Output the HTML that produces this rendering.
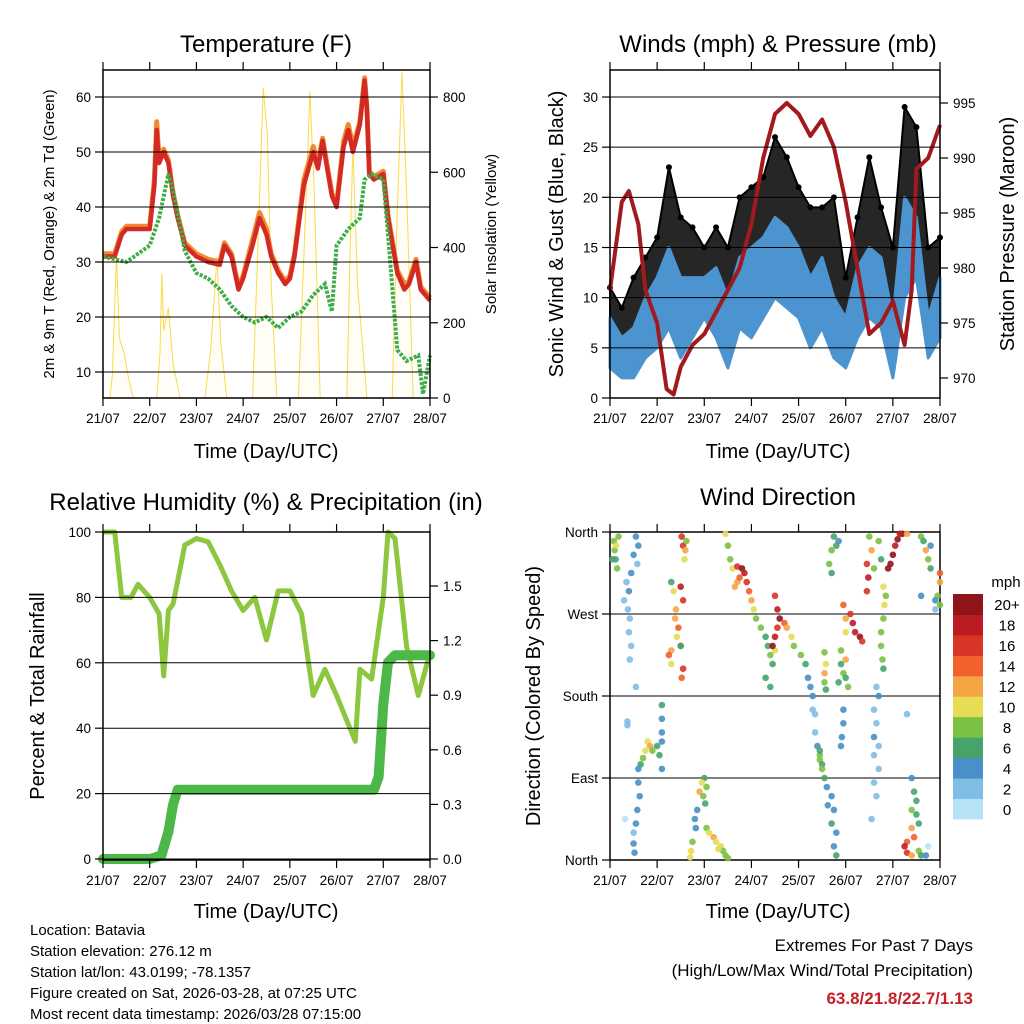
<!DOCTYPE html>
<html><head><meta charset="utf-8">
<style>
html,body{margin:0;padding:0;background:#fff;}
svg{display:block;font-family:"Liberation Sans",Arial,sans-serif;}
</style></head>
<body>
<svg id="chart" width="1024" height="1024" viewBox="0 0 1024 1024" xmlns="http://www.w3.org/2000/svg">
<rect width="1024" height="1024" fill="#fff"/>
<g id="layer"></g>
<text x="266" y="52" font-size="24" text-anchor="middle">Temperature (F)</text>
<text x="778" y="52" font-size="24" text-anchor="middle">Winds (mph) &amp; Pressure (mb)</text>
<text x="266" y="510" font-size="24" text-anchor="middle">Relative Humidity (%) &amp; Precipitation (in)</text>
<text x="778" y="505" font-size="24" text-anchor="middle">Wind Direction</text>
<text x="266" y="458" font-size="20" text-anchor="middle">Time (Day/UTC)</text>
<text x="778" y="458" font-size="20" text-anchor="middle">Time (Day/UTC)</text>
<text x="266" y="918" font-size="20" text-anchor="middle">Time (Day/UTC)</text>
<text x="778" y="918" font-size="20" text-anchor="middle">Time (Day/UTC)</text>
<text transform="translate(54,234) rotate(-90)" font-size="15" text-anchor="middle">2m &amp; 9m T (Red, Orange) &amp; 2m Td (Green)</text>
<text transform="translate(496,234) rotate(-90)" font-size="15" text-anchor="middle">Solar Insolation (Yellow)</text>
<text transform="translate(563,234) rotate(-90)" font-size="20" text-anchor="middle">Sonic Wind &amp; Gust (Blue, Black)</text>
<text transform="translate(1014,234) rotate(-90)" font-size="20" text-anchor="middle">Station Pressure (Maroon)</text>
<text transform="translate(44,696) rotate(-90)" font-size="20" text-anchor="middle">Percent &amp; Total Rainfall</text>
<text transform="translate(540,696) rotate(-90)" font-size="20" text-anchor="middle">Direction (Colored By Speed)</text>
<g font-size="15">
<text x="30" y="935">Location: Batavia</text>
<text x="30" y="956">Station elevation: 276.12 m</text>
<text x="30" y="977">Station lat/lon: 43.0199; -78.1357</text>
<text x="30" y="998">Figure created on Sat, 2026-03-28, at 07:25 UTC</text>
<text x="30" y="1019">Most recent data timestamp: 2026/03/28 07:15:00</text>
</g>
<g text-anchor="end">
<text x="973" y="951" font-size="17">Extremes For Past 7 Days</text>
<text x="973" y="976" font-size="17">(High/Low/Max Wind/Total Precipitation)</text>
<text x="973" y="1004" font-size="17" font-weight="bold" fill="#c8202a">63.8/21.8/22.7/1.13</text>
</g>
</svg>
<script>
const dayLabels=["21/07","22/07","23/07","24/07","25/07","26/07","27/07","28/07"];
// Temperature panel
const tempT=[0,0.25,0.4,0.5,0.75,1.0,1.1,1.15,1.2,1.3,1.4,1.5,1.6,1.75,2.0,2.25,2.5,2.6,2.75,2.9,3.0,3.2,3.35,3.5,3.6,3.75,3.9,4.0,4.1,4.3,4.5,4.6,4.7,4.8,4.9,5.0,5.15,5.25,5.35,5.5,5.6,5.65,5.7,5.8,6.0,6.1,6.3,6.45,6.55,6.7,6.8,7.0];
const tempRed=[31,31,35,36,36,36,44,54,48,50,48,42,38,33,31,30,29.5,33,31,25,27,33,38,35,31,28,26,27,31,44,50,47,52,47,42,40,51,54,50,55,63,58,46,45,46,38,28,25,26,30,25,23];
const tempOrange=[31.5,31.5,35.5,36.5,36.5,36.5,45,55.5,48.5,50.5,48.5,42.5,38.5,33.5,31.5,30.5,30,33.5,31.5,25.5,27.5,34,39,36,31.5,28.5,26.5,27.5,31.5,45,51,48,52.5,47.5,42.5,40.5,52,55,51,55.5,63.5,58,46.5,45.5,46.5,38.5,28.5,26,26.5,30.5,25.5,23.5];
const dewT=[0,0.5,1.0,1.2,1.4,1.5,1.75,2.0,2.25,2.5,2.75,3.0,3.25,3.5,3.75,4.0,4.25,4.5,4.75,4.9,5.0,5.25,5.5,5.6,5.75,6.0,6.1,6.3,6.5,6.75,6.85,7.0];
const dewVal=[31,30,33,38,46,43,32,28,27,25,22,20,19,20,18,20,21,24,26,21,33,36,38,45,46,45,35,14,12,13,6,13];
const solarT=[0,0.15,0.2,0.29,0.35,0.45,0.55,0.65,1.15,1.22,1.26,1.3,1.4,1.5,1.65,2.18,2.3,2.44,2.52,2.65,3.2,3.3,3.43,3.52,3.6,3.72,4.18,4.3,4.43,4.52,4.65,5.22,5.3,5.35,5.45,5.65,6.19,6.3,6.4,6.5,6.64,7.0];
const solarV=[0,0,60,385,160,120,50,0,0,120,332,180,240,90,0,0,120,375,150,0,0,350,825,700,300,0,0,380,815,560,0,0,450,670,300,0,0,500,867,550,0,0];
const tempTicks=[10,20,30,40,50,60];
const solarTicks=[0,200,400,600,800];
// Winds panel
const windT=[0,0.25,0.5,0.75,1.0,1.25,1.5,1.75,2.0,2.25,2.5,2.75,3.0,3.25,3.5,3.75,4.0,4.25,4.5,4.75,5.0,5.25,5.5,5.75,6.0,6.25,6.5,6.75,7.0];
const windLo=[3,2,2,4,5,7,4,6,8,6,3,7,6,8,10,9,8,5,7,4,3,6,8,7,2,10,12,4,6];
const windHi=[8,6,7,10,12,15,12,12,12,13,10,14,15,16,18,17,15,12,14,10,8,13,15,14,8,20,18,8,12];
const gust=[11,9,12,14,16,23,18,17,15,17,15,20,21,22,26,24,21,19,19,20,12,18,24,19,15,29,27,15,16];
const presT=[0,0.25,0.4,0.6,0.75,1.0,1.2,1.35,1.5,1.75,2.0,2.25,2.5,2.75,3.0,3.25,3.5,3.75,4.0,4.25,4.5,4.75,5.0,5.25,5.5,5.75,6.0,6.25,6.4,6.5,6.75,7.0];
const presVal=[978,986,987,984,978,975,969,968.5,971,973,974,976,978,980,984,990,994,995,994,992,993.5,991,986,980,974,975,977,973,978,989,990,993];
const windTicks=[0,5,10,15,20,25,30];
const presTicks=[970,975,980,985,990,995];
// RH panel
const rhT=[0,0.25,0.4,0.6,0.75,1.0,1.2,1.3,1.4,1.5,1.75,2.0,2.25,2.5,2.75,3.0,3.25,3.5,3.75,4.0,4.25,4.5,4.75,5.0,5.2,5.4,5.5,5.75,6.0,6.1,6.25,6.5,6.75,7.0];
const rhVal=[100,100,80,80,84,80,75,56,76,78,96,98,97,90,82,76,80,67,82,82,75,50,58,50,43,36,58,55,80,100,98,65,50,63];
const precT=[0,1.0,1.25,1.4,1.5,1.6,1.75,5.8,5.9,6.0,6.1,6.25,7.0];
const precVal=[0,0,0.02,0.15,0.30,0.38,0.38,0.38,0.45,0.85,1.08,1.12,1.12];
const rhTicks=[0,20,40,60,80,100];
const precTicks=[0.0,0.3,0.6,0.9,1.2,1.5];
// Wind direction panel
const dirLabels=["North","East","South","West","North"];
const speedLabels=["0","2","4","6","8","10","12","14","16","18","20+"];
const dirT=[0.08,0.1,0.12,0.15,0.05,0.18,0.13,0.55,0.6,0.5,0.58,0.45,0.35,0.4,0.3,0.38,0.42,0.4,0.45,0.42,0.55,1.52,1.55,1.6,1.62,1.58,1.3,1.35,1.5,1.55,1.4,1.38,1.45,1.42,1.5,1.3,1.25,1.3,1.55,1.52,1.5,0.37,0.37,1.1,1.1,1.1,0.8,0.85,0.75,0.7,0.65,0.6,1.0,1.05,1.1,1.1,0.9,0.6,0.63,0.58,0.55,0.5,0.5,0.52,0.32,2.0,1.95,2.05,1.9,1.98,2.02,1.85,1.8,1.82,1.75,1.72,1.7,2.05,2.1,2.2,2.25,2.35,2.4,2.45,2.5,2.3,2.45,2.5,2.55,2.6,2.7,2.7,2.8,2.85,2.75,2.9,2.65,2.95,3.0,3.05,3.1,3.2,3.3,3.35,3.4,3.45,3.3,3.4,3.5,3.5,3.55,3.6,3.55,3.5,3.45,3.7,3.75,3.85,3.9,4.05,4.15,4.2,4.25,4.3,4.3,4.35,4.35,4.4,4.45,4.45,4.5,4.5,4.45,4.55,4.6,4.7,4.75,4.7,4.8,4.75,4.8,4.62,4.75,4.85,4.7,4.65,4.7,4.8,4.55,4.58,4.55,4.55,4.58,4.95,5.0,5.0,5.1,5.15,5.2,5.3,5.35,4.9,4.9,4.95,5.0,5.05,4.85,5.0,4.95,4.95,4.92,4.9,5.5,5.55,5.45,5.48,5.45,5.6,5.7,5.75,5.8,5.85,5.82,5.8,5.75,5.75,5.78,5.8,5.65,5.7,5.6,5.65,5.6,5.7,5.6,5.7,5.6,5.65,5.55,5.9,5.95,6.0,6.05,6.1,6.2,6.15,6.3,6.6,6.65,6.7,6.75,6.8,6.8,6.6,7.0,7.0,6.95,6.9,6.9,7.0,6.4,6.45,6.5,6.4,6.5,6.55,6.4,6.45,6.3,6.25,6.3,6.4,6.55,6.6,6.7,6.75,6.3];
const dirDeg=[350,340,330,320,330,355,345,355,345,335,325,315,305,295,285,275,265,250,235,220,190,355,345,340,350,330,305,295,300,285,275,265,255,245,235,230,225,215,210,200,235,152,148,170,155,140,130,125,120,112,105,100,125,115,130,100,120,85,70,55,40,30,18,8,45,90,85,80,75,70,62,55,45,35,20,10,3,35,30,25,20,15,10,5,2,12,358,345,330,320,305,322,320,315,310,305,300,295,285,275,265,255,245,235,225,215,200,190,230,290,275,265,255,245,235,260,255,245,235,225,215,200,190,180,165,160,140,125,115,110,105,100,120,90,80,70,55,40,30,15,5,60,355,350,340,325,315,345,228,215,205,195,187,280,265,250,270,260,250,245,240,230,215,205,200,190,195,220,165,150,135,125,355,340,325,310,295,320,350,330,300,290,280,265,250,235,220,210,190,180,165,150,135,125,115,100,85,70,45,320,325,335,345,352,358,358,358,355,350,340,330,320,345,290,315,305,290,285,275,280,90,75,65,55,50,40,35,25,20,15,8,5,10,5,5,15,160];
const dirSpd=[8,9,7,8,6,8,10,4,4,4,3,4,3,4,3,2,2,2,2,2,2,17,16,12,8,10,7,10,18,16,12,12,14,10,14,12,15,10,16,15,6,2,2,6,4,4,10,12,10,8,6,4,6,6,4,4,8,4,4,4,4,3,4,4,0,7,10,8,12,8,7,4,4,4,8,10,10,8,10,12,10,11,8,9,8,11,10,8,9,10,12,16,20,18,14,16,12,14,12,10,8,8,7,6,8,6,6,7,10,16,18,20,16,18,20,14,12,10,8,8,6,4,4,4,2,2,2,4,8,8,7,8,6,6,4,4,4,6,4,4,6,4,6,4,8,8,7,6,8,10,12,8,6,14,12,10,16,18,18,20,16,8,6,8,6,8,6,12,4,4,4,4,8,12,16,18,16,8,8,6,10,8,10,8,8,8,8,7,2,4,2,2,4,2,2,2,2,2,2,20,20,20,18,20,20,18,12,8,6,12,8,6,4,4,14,12,8,4,2,8,4,6,6,8,6,6,12,14,14,18,16,12,8,6,4,0,2];

const NS="http://www.w3.org/2000/svg";
const layer=document.getElementById('layer');
function mk(tag,attrs,parent){const e=document.createElementNS(NS,tag);for(const k in attrs)e.setAttribute(k,attrs[k]);(parent||layer).appendChild(e);return e;}
function scale(d0,d1,r0,r1){return v=>r0+(v-d0)/(d1-d0)*(r1-r0);}
function pathD(xs,ys,fx,fy){return xs.map((t,i)=>(i?'L':'M')+fx(t).toFixed(1)+','+fy(ys[i]).toFixed(1)).join('');}

function frame(name,x0,x1,y0,y1,xs,leftTicks,fyL,leftFmt,rightTicks,fyR,rightFmt,gridTicks){
  const g=mk('g',{});
  
  
  gridTicks.forEach(v=>{const gl=mk('line',{x1:x0,x2:x1,y1:fyL(v),y2:fyL(v),stroke:'#000','stroke-width':1},g);
    
    });
  mk('rect',{x:x0,y:y0,width:x1-x0,height:y1-y0,fill:'none',stroke:'#000','stroke-width':1.5},g);
  for(let d=0;d<=7;d++){
    const x=xs(d);
    mk('line',{x1:x,x2:x,y1:y1,y2:y1+8,stroke:'#000','stroke-width':1.2},g);
    mk('line',{x1:x,x2:x,y1:y0,y2:y0-8,stroke:'#000','stroke-width':1.2},g);
    const t=mk('text',{x:x,y:y1+25,'font-size':13.5,'text-anchor':'middle'},g);t.textContent=dayLabels[d];
    
    
  }
  leftTicks.forEach(v=>{const y=fyL(v);
    mk('line',{x1:x0-8,x2:x0,y1:y,y2:y,stroke:'#000','stroke-width':1.2},g);
    if(leftFmt){const t=mk('text',{x:x0-12,y:y+5,'font-size':13.5,'text-anchor':'end'},g);t.textContent=leftFmt(v);
    
    }});
  rightTicks.forEach(v=>{const y=fyR(v);
    mk('line',{x1:x1,x2:x1+8,y1:y,y2:y,stroke:'#000','stroke-width':1.2},g);
    const t=mk('text',{x:x1+13,y:y+5,'font-size':13.5,'text-anchor':'start'},g);t.textContent=rightFmt(v);
    
    });
}

// ---- Temperature panel
{const x0=103,x1=430,y0=70,y1=398;
 const fx=scale(0,7,x0,x1), fy=scale(10,60,372,97), fs=scale(0,800,398,97);
 const s=mk('path',{d:pathD(solarT,solarV,fx,fs),fill:'#fbe97a','fill-opacity':0.08,stroke:'#f8dc4a','stroke-width':1});
 
 
 const o=mk('path',{d:pathD(tempT,tempOrange,fx,fy),fill:'none',stroke:'#f28a2e','stroke-width':5,'stroke-linejoin':'round'});
 
 
 const r=mk('path',{d:pathD(tempT,tempRed,fx,fy),fill:'none',stroke:'#d42a26','stroke-width':4.5,'stroke-linejoin':'round'});
 
 
 const gr=mk('path',{d:pathD(dewT,dewVal,fx,fy),fill:'none',stroke:'#3fae46','stroke-width':4,'stroke-dasharray':'3,1.5'});
 
 
 frame('temperature',x0,x1,y0,y1,fx,tempTicks,fy,v=>String(v),solarTicks,fs,v=>String(v),tempTicks);
}
// ---- Winds panel
{const x0=610,x1=940,y0=70,y1=398;
 const fx=scale(0,7,x0,x1), fy=scale(0,30,398,97), fp=scale(970,995,378,103);
 const gd=pathD(windT,gust,fx,fy)+windT.slice().reverse().map((t,i)=>'L'+fx(t).toFixed(1)+','+fy(windHi[windT.length-1-i]).toFixed(1)).join('')+'Z';
 const gb=mk('path',{d:gd,fill:'#000','fill-opacity':0.85,stroke:'#000','stroke-width':2,'stroke-linejoin':'round'});
 
 
 const bd=pathD(windT,windHi,fx,fy)+windT.slice().reverse().map((t,i)=>'L'+fx(t).toFixed(1)+','+fy(windLo[windT.length-1-i]).toFixed(1)).join('')+'Z';
 const bb=mk('path',{d:bd,fill:'#4b94d0',stroke:'#4b94d0','stroke-width':3,'stroke-linejoin':'round'});
 
 
 gust.forEach((v,i)=>{const c=mk('circle',{cx:fx(windT[i]),cy:fy(v),r:3,fill:'#000'});
   
   });
 const p=mk('path',{d:pathD(presT,presVal,fx,fp),fill:'none',stroke:'#a31a1e','stroke-width':4,'stroke-linejoin':'round'});
 
 
 frame('winds',x0,x1,y0,y1,fx,windTicks,fy,v=>String(v),presTicks,fp,v=>String(v),windTicks);
}
// ---- RH panel
{const x0=103,x1=430,y0=532,y1=860;
 const fx=scale(0,7,x0,x1), fy=scale(0,100,859,532), fr=scale(0,1.5,859,586);
 const rh=mk('path',{d:pathD(rhT,rhVal,fx,fy),fill:'none',stroke:'#8dc63f','stroke-width':5,'stroke-linejoin':'round'});
 
 
 const pr=mk('path',{d:pathD(precT,precVal,fx,fr),fill:'none',stroke:'#4cb848','stroke-width':10,'stroke-linejoin':'round','stroke-linecap':'round'});
 
 
 frame('humidity',x0,x1,y0,y1,fx,rhTicks,fy,v=>String(v),precTicks,fr,v=>v.toFixed(1),rhTicks);
}
// ---- Wind direction panel
{const x0=610,x1=940,y0=532,y1=860;
 const fx=scale(0,7,x0,x1), fy=scale(0,360,860,532);
 const colors=['#b7e3f8','#7fbce6','#4890c7','#46a46b','#7bc143','#e5dd55','#f6a545','#f0612b','#d83427','#bb1c22','#8f1518'];
 frame('direction',x0,x1,y0,y1,fx,[],fy,null,[],fy,v=>'',[90,180,270]);
 dirT.forEach((t,i)=>{const b=Math.min(10,Math.floor(dirSpd[i]/2));
   const c=mk('circle',{cx:fx(t).toFixed(1),cy:fy(dirDeg[i]).toFixed(1),r:3.3,fill:colors[b],'fill-opacity':0.9});
   
   });
 [0,90,180,270,360].forEach((v,i)=>{const y=fy(v);
   mk('line',{x1:x0-8,x2:x0,y1:y,y2:y,stroke:'#000','stroke-width':1.2});
   const tx=mk('text',{x:x0-12,y:y+5,'font-size':13.5,'text-anchor':'end'});tx.textContent=dirLabels[i];
   
   });
 const cb=mk('g',{});
 
 
 const h=(819-594)/11;
 speedLabels.forEach((l,i)=>{const y=819-(i+1)*h;
   mk('rect',{x:953,y:y,width:30,height:h+0.5,fill:colors[i]},cb);
   const tx=mk('text',{x:1007,y:y+h/2+6,'font-size':15,'text-anchor':'middle'},cb);tx.textContent=l;
   
   });
 const u=mk('text',{x:1006,y:587,'font-size':15,'text-anchor':'middle'},cb);u.textContent='mph';
 
 
}
</script>
</body></html>
